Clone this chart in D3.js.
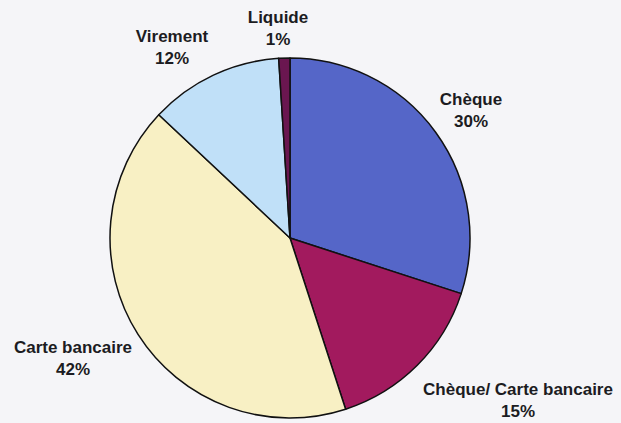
<!DOCTYPE html>
<html><head><meta charset="utf-8">
<script src="https://cdn.jsdelivr.net/npm/d3@7"></script>
<style>html,body{margin:0;padding:0;background:#f5f5f8;}svg{display:block;}</style>
</head><body>
<script>
const categories = ["Chèque", "Chèque/ Carte bancaire", "Carte bancaire", "Virement", "Liquide"];
const values = [30, 15, 42, 12, 1];
const colors = ["#5566c8", "#a21a5e", "#f8f0c4", "#c0e0f8", "#6a1650"];
const labelPos = [[471, 105], [518, 395], [73, 353], [172, 42], [278, 23]];

const W = 621, H = 423, cx = 290, cy = 238, R = 180;
const svg = d3.select("body").append("svg").attr("width", W).attr("height", H);
svg.append("rect").attr("width", W).attr("height", H).attr("fill", "#f5f5f8");

const pie = d3.pie().sort(null).value(d => d);
const arc = d3.arc().innerRadius(0).outerRadius(R);
const g = svg.append("g").attr("transform", `translate(${cx},${cy})`);
g.selectAll("path").data(pie(values)).join("path")
  .attr("d", arc)
  .attr("fill", (d, i) => colors[i])
  .attr("stroke", "#111")
  .attr("stroke-width", 1.5)
  .attr("stroke-linejoin", "round");

const lbl = svg.selectAll("g.lbl").data(categories).join("g").attr("class", "lbl");
lbl.append("text")
  .attr("x", (d, i) => labelPos[i][0]).attr("y", (d, i) => labelPos[i][1])
  .attr("text-anchor", "middle")
  .attr("font-family", "Liberation Sans, Arial, sans-serif")
  .attr("font-weight", "bold").attr("font-size", 17).attr("fill", "#1c1c22")
  .text(d => d);
lbl.append("text")
  .attr("x", (d, i) => labelPos[i][0]).attr("y", (d, i) => labelPos[i][1] + 22)
  .attr("text-anchor", "middle")
  .attr("font-family", "Liberation Sans, Arial, sans-serif")
  .attr("font-weight", "bold").attr("font-size", 17).attr("fill", "#1c1c22")
  .text((d, i) => values[i] + "%");
</script>
</body></html>
